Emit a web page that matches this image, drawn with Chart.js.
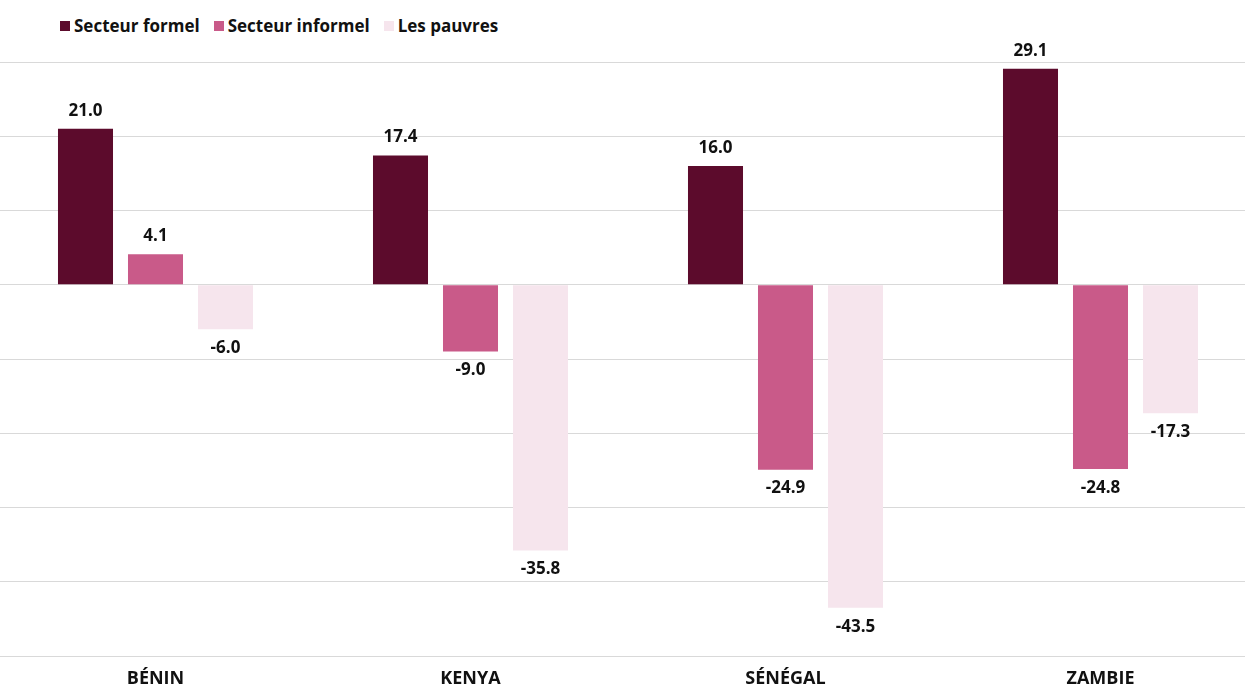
<!DOCTYPE html>
<html>
<head>
<meta charset="utf-8">
<script src="https://cdn.jsdelivr.net/npm/chart.js@4"></script>
<style>
  html, body { margin: 0; padding: 0; background: #fff; overflow: hidden; }
  body { width: 1245px; height: 688px; position: relative; font-family: "Open Sans", sans-serif; }
  #legende { position: absolute; left: 60px; top: 14px; display: flex; font-weight: bold; font-size: 17px; color: #111; line-height: 23px; }
  #legende span.item { display: flex; align-items: center; margin-right: 14px; }
  #legende span.box { width: 10px; height: 10px; margin-right: 4px; display: inline-block; }
  #zone { position: absolute; left: -2px; top: 0; width: 1260px; height: 688px; }
</style>
</head>
<body>
<div id="legende"></div>
<div id="zone"><canvas id="graphique"></canvas></div>
<script>
const pays = ['BÉNIN', 'KENYA', 'SÉNÉGAL', 'ZAMBIE'];
const formel = [21.0, 17.4, 16.0, 29.1];
const informel = [4.1, -9.0, -24.9, -24.8];
const pauvres = [-6.0, -35.8, -43.5, -17.3];
const noms = ['Secteur formel', 'Secteur informel', 'Les pauvres'];
const couleurs = ['#5c0b2c', '#c95a89', '#f6e5ed'];

// etiquettes au-dessus / en-dessous des barres
const etiquettes = {
    id: 'etiquettes',
    afterDatasetsDraw(chart) {
        const c = chart.ctx;
        c.save();
        c.font = 'bold 17px "Open Sans"';
        c.fillStyle = '#111';
        c.textAlign = 'center';
        c.textBaseline = 'middle';
        chart.data.datasets.forEach((ds, i) => {
            chart.getDatasetMeta(i).data.forEach((barre, j) => {
                const v = ds.data[j];
                const y = v >= 0 ? barre.y - 18 : barre.y + 19;
                c.fillText(v.toFixed(1), barre.x, y);
            });
        });
        c.restore();
    }
};

const ctx = document.getElementById('graphique');
const graphique = new Chart(ctx, {
    type: 'bar',
    data: {
        labels: pays,
        datasets: [formel, informel, pauvres].map((d, i) => ({
            label: noms[i],
            data: d,
            backgroundColor: couleurs[i],
            categoryPercentage: 0.6667,
            barPercentage: 0.786
        }))
    },
    options: {
        responsive: true,
        maintainAspectRatio: false,
        animation: false,
        layout: { padding: { top: 62, left: 0, right: 0, bottom: 0 } },
        plugins: { legend: { display: false }, tooltip: { enabled: false } },
        scales: {
            x: {
                grid: { display: false, drawTicks: false },
                border: { display: false },
                ticks: { color: '#111', padding: 12, font: { family: 'Open Sans', size: 18, weight: 'bold' } },
                afterFit: (a) => { a.height = 32; }
            },
            y: {
                min: -50,
                max: 30,
                ticks: { display: false, stepSize: 10 },
                grid: { color: '#d9d9d9', drawTicks: false },
                border: { display: false },
                afterFit: (a) => { a.width = 0; }
            }
        }
    },
    plugins: [etiquettes]
});

// legende
const legende = document.getElementById('legende');
noms.forEach((n, i) => {
    const item = document.createElement('span');
    item.className = 'item';
    item.innerHTML = `<span class="box" style="background:${couleurs[i]}"></span>${n}`;
    legende.appendChild(item);
});
</script>
</body>
</html>
